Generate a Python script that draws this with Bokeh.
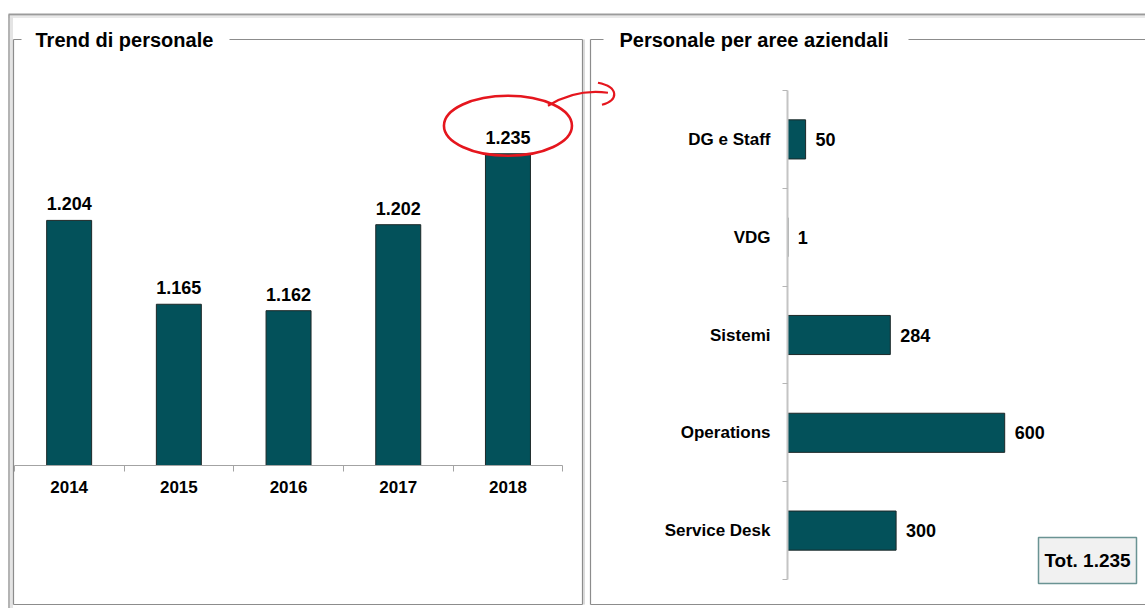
from bokeh.plotting import figure
from bokeh.models import Range1d, LinearAxis, FixedTicker, ColumnDataSource
from bokeh.core.properties import value
from bokeh.embed import file_html
from bokeh.resources import INLINE

# ---------------- data ----------------
years = ["2014", "2015", "2016", "2017", "2018"]
headcount = [1204, 1165, 1162, 1202, 1235]
areas = ["DG e Staff", "VDG", "Sistemi", "Operations", "Service Desk"]
area_counts = [50, 1, 284, 600, 300]
left_title = "Trend di personale"
right_title = "Personale per aree aziendali"
total_text = "Tot. 1.235"


def it_fmt(v):
    return f"{v:,}".replace(",", ".")


# ---------------- layout constants ----------------
W, H = 1145, 608
FONT = "Liberation Sans"
BAR = "#03515a"
EDGE = "#1c2828"
FRAME = "#8c8c8c"
RED = "#e5161e"

# left chart mapping
L_BASE_Y = 465.0
L_SCALE = 2.15
L_V0 = 1090
L_X0 = 68.65
L_STEP = 109.7
# right chart mapping
R_AXIS_X = 787.0
R_SCALE = 0.362
R_Y0 = 138.9
R_STEP = 97.8

p = figure(width=W, height=H, x_range=Range1d(0, W), y_range=Range1d(H, 0),
           x_axis_type=None, y_axis_type=None, min_border=0,
           toolbar_location=None, output_backend="svg",
           outline_line_color=None, background_fill_color="white",
           border_fill_color="white")

p.extra_x_ranges = {
    "lx": Range1d(start=-L_X0 / L_STEP, end=(W - L_X0) / L_STEP),
    "rx": Range1d(start=-R_AXIS_X / R_SCALE, end=(W - R_AXIS_X) / R_SCALE),
}
p.extra_y_ranges = {
    "ly": Range1d(start=L_V0 - (H - L_BASE_Y) / L_SCALE, end=L_V0 + L_BASE_Y / L_SCALE),
    "ry": Range1d(start=(H - R_Y0) / R_STEP, end=-R_Y0 / R_STEP),
}

# ---------------- page decorations ----------------
# outer container lines
p.segment(x0=[8], y0=[14], x1=[W], y1=[14], line_color="#9b9b9b", line_width=2)
p.segment(x0=[8], y0=[16.5], x1=[W], y1=[16.5], line_color="#e2e2e2", line_width=1.5)
p.segment(x0=[8.5], y0=[14], x1=[8.5], y1=[H], line_color="#9b9b9b", line_width=1.5)
p.segment(x0=[11], y0=[16], x1=[11], y1=[H], line_color="#e4e4e4", line_width=3)

# panel boxes (fieldset style)
seg_x0 = [13, 13, 229, 582, 13, 590, 590, 908, 590]
seg_y0 = [39, 39, 39, 39, 604, 39, 39, 39, 604]
seg_x1 = [13, 21, 582, 582, 582, 590, 603, W, W]
seg_y1 = [604, 39, 39, 604, 604, 604, 39, 39, 604]
p.segment(x0=seg_x0, y0=seg_y0, x1=seg_x1, y1=seg_y1, line_color=FRAME, line_width=1.2)
p.segment(x0=[583.5], y0=[39], x1=[583.5], y1=[604], line_color="#cfcfcf", line_width=1.5)

p.text(x=[35, 619], y=[39.5, 39.5], text=[left_title, right_title],
       text_font=value(FONT), text_font_style="bold", text_font_size="20px",
       text_color="black", text_align="left", text_baseline="middle")

# ---------------- left chart: trend ----------------
src_l = ColumnDataSource(dict(x=list(range(len(years))), top=headcount,
                              label=[it_fmt(v) for v in headcount]))
p.vbar(x="x", top="top", bottom=L_V0, width=0.41, source=src_l,
       x_range_name="lx", y_range_name="ly",
       fill_color=BAR, line_color=EDGE, line_width=1)
p.text(x="x", y="top", text="label", source=src_l,
       x_range_name="lx", y_range_name="ly",
       text_align="center", text_baseline="bottom", y_offset=-10,
       text_font=value(FONT), text_font_style="bold", text_font_size="18px",
       text_color="black")

ax = LinearAxis(x_range_name="lx", y_range_name="ly", fixed_location=L_V0,
                bounds=(-0.5, len(years) - 0.5),
                ticker=FixedTicker(ticks=list(range(len(years))),
                                   minor_ticks=[i - 0.5 for i in range(len(years) + 1)]),
                major_label_overrides={i: y for i, y in enumerate(years)})
ax.axis_line_color = "#a3a3a3"
ax.axis_line_width = 1.2
ax.major_tick_line_color = None
ax.major_tick_out = 0
ax.major_tick_in = 0
ax.minor_tick_line_color = "#a3a3a3"
ax.minor_tick_out = 6
ax.minor_tick_in = 0
ax.major_label_standoff = 9
ax.major_label_text_font = FONT
ax.major_label_text_font_style = "bold"
ax.major_label_text_font_size = "17px"
ax.major_label_text_color = "black"
p.add_layout(ax, "below")

# highlight ellipse + swoosh around the last value
ex = L_X0 + (len(years) - 1) * L_STEP
ey = L_BASE_Y - (headcount[-1] - L_V0) * L_SCALE - 28
p.ellipse(x=[ex], y=[ey], width=128, height=60, width_units="screen",
          height_units="screen", fill_color=None, line_color=RED, line_width=2.6)
p.bezier(x0=[ex + 40, ex + 90], y0=[ey - 20, ey - 43],
         x1=[ex + 100, ex + 94], y1=[ey - 33, ey - 21],
         cx0=[ex + 58, ex + 111], cy0=[ey - 31, ey - 39],
         cx1=[ex + 78, ex + 111], cy1=[ey - 36, ey - 25],
         line_color=RED, line_width=2.2)

# ---------------- right chart: areas ----------------
src_r = ColumnDataSource(dict(y=list(range(len(areas))), right=area_counts,
                              label=[it_fmt(v) for v in area_counts]))
p.hbar(y="y", right="right", left=0, height=0.40, source=src_r,
       x_range_name="rx", y_range_name="ry",
       fill_color=BAR, line_color=EDGE, line_width=1)
p.text(x="right", y="y", text="label", source=src_r,
       x_range_name="rx", y_range_name="ry",
       text_align="left", text_baseline="middle", x_offset=10,
       text_font=value(FONT), text_font_style="bold", text_font_size="18px",
       text_color="black")

ay = LinearAxis(x_range_name="rx", y_range_name="ry", fixed_location=0,
                bounds=(-0.5, len(areas) - 0.5),
                ticker=FixedTicker(ticks=list(range(len(areas))),
                                   minor_ticks=[i - 0.5 for i in range(len(areas) + 1)]),
                major_label_overrides={i: a for i, a in enumerate(areas)})
ay.axis_line_color = "#c4c4c4"
ay.axis_line_width = 2
ay.major_tick_line_color = None
ay.major_tick_out = 0
ay.major_tick_in = 0
ay.minor_tick_line_color = "#b5b5b5"
ay.minor_tick_out = 5
ay.minor_tick_in = 0
ay.major_label_standoff = 12
ay.major_label_text_font = FONT
ay.major_label_text_font_style = "bold"
ay.major_label_text_font_size = "17px"
ay.major_label_text_color = "black"
p.add_layout(ay, "left")

# total box
p.quad(left=[1038], right=[1136], top=[537], bottom=[583],
       fill_color="#f1f1f1", line_color="#6a9393", line_width=1.5)
p.text(x=[1087], y=[560], text=[total_text], text_align="center",
       text_baseline="middle", text_font=value(FONT), text_font_style="bold",
       text_font_size="19px", text_color="black")

open("out.html", "w").write(file_html(p, INLINE))
